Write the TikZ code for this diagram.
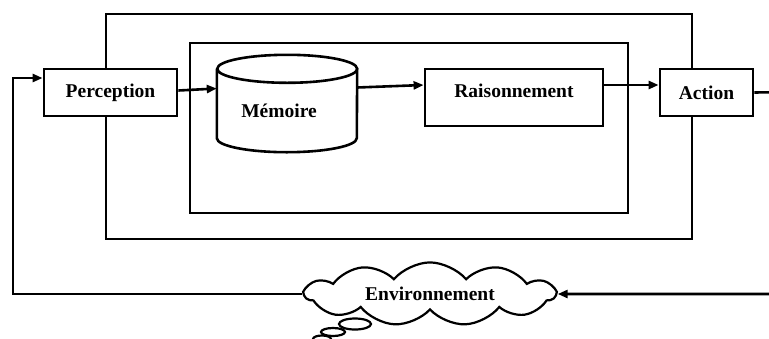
\documentclass[tikz,border=0pt]{standalone}
\usepackage{fontspec}
\setmainfont{Liberation Serif}
\usetikzlibrary{arrows.meta,shapes.symbols}
\tikzset{
  box/.style={draw,fill=white,line width=2.8pt,inner sep=0pt},
  memcyl/.style={draw,fill=white,line width=2.6pt},
  envcloud/.style={draw,fill=white,line width=2.2pt,cloud,cloud puffs=11,
    cloud puff arc=100,aspect=4.5,minimum width=250pt,minimum height=52pt,inner sep=0pt},
  flow/.style={line width=2.6pt,-{Triangle[length=10pt,width=8pt]}}
}
\begin{document}
\begin{tikzpicture}[x=1pt,y=-1pt,font=\fontsize{19.5}{22}\selectfont\bfseries]
  \clip (0,0) rectangle (769,338);
  \draw[line width=2.6pt] (106,14) rectangle (692,239);
  \draw[line width=2.6pt] (190,43) rectangle (628,213);
  \node[box,minimum width=133pt,minimum height=47pt] (perc) at (110.5,92.5) {Perception};
  \node[minimum width=140pt,minimum height=97pt,inner sep=0pt] (mem) at (287,103.5) {};
  \draw[memcyl] ([yshift=-14pt]mem.north west) -- ([yshift=14pt]mem.south west)
    arc[start angle=180,end angle=360,x radius=70pt,y radius=14pt]
    -- ([yshift=-14pt]mem.north east)
    arc[start angle=0,end angle=360,x radius=70pt,y radius=14pt];
  \node (memtxt) at (279,111) {Mémoire};
  \node[box,minimum width=178pt,minimum height=57pt,text depth=14pt] (reason) at (514,97.5) {Raisonnement};
  \node[box,minimum width=93pt,minimum height=47pt] (act) at (706.5,92.5) {Action};
  \node[envcloud] (env) at (430,294) {Environnement};
  \draw[line width=2.2pt,fill=white] (355,324) ellipse (16pt and 5.5pt);
  \draw[line width=2.2pt,fill=white] (333,332) ellipse (12pt and 4pt);
  \draw[line width=2.2pt,fill=white] (322,339) ellipse (9pt and 3.5pt);
  \coordinate (fbl) at (13,78);
  \coordinate (fbr) at (790,92);
  \begin{scope}[flow]
    \draw ([yshift=2pt]perc.east) -- ([yshift=4pt]perc.east -| mem.west);
    \draw ([yshift=16pt]mem.east) -- ([yshift=12.5pt]reason.west);
    \draw ([yshift=12.5pt]reason.east) -- ([yshift=12.5pt]reason.east -| act.west);
    \draw (act.east) -- (fbr) |- (env.east);
    \draw (env.west) -| (fbl) -- (fbl -| perc.west);
  \end{scope}
\end{tikzpicture}
\end{document}
